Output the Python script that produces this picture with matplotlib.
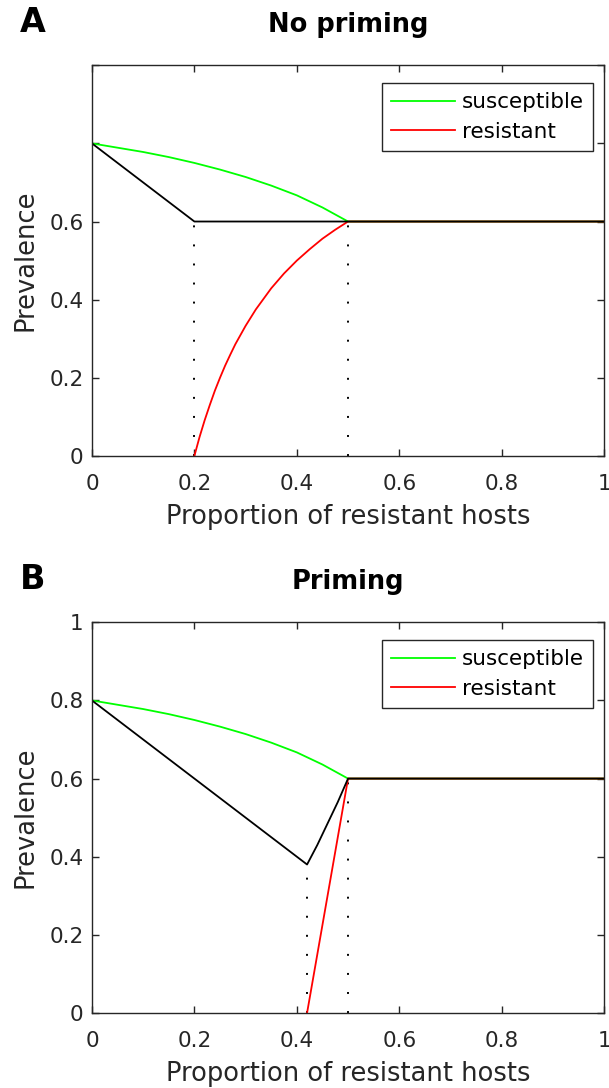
import numpy as np
import matplotlib
matplotlib.use('Agg')
from matplotlib import pyplot as plt

# valores
p_sus = [0, 0.05, 0.1, 0.15, 0.2, 0.25, 0.3, 0.35, 0.4, 0.45, 0.5, 1]
sus = [0.8, 0.789, 0.778, 0.765, 0.75, 0.733, 0.714, 0.692, 0.667, 0.636, 0.6, 0.6]

# panel A (sin priming)
p_res_a = [0.2, 0.21, 0.22, 0.23, 0.24, 0.25, 0.26, 0.27, 0.28, 0.3, 0.32, 0.35,
           0.375, 0.4, 0.425, 0.45, 0.475, 0.5, 1]
res_a = [0, 0.048, 0.091, 0.130, 0.167, 0.2, 0.231, 0.259, 0.286, 0.333, 0.375, 0.429,
         0.467, 0.5, 0.529, 0.556, 0.579, 0.6, 0.6]
p_tot_a = [0, 0.2, 1]
tot_a = [0.8, 0.6, 0.6]
umbral_a = [0.2, 0.5]
umbral_a_y = [0.6, 0.6]

# panel B (priming)
p_res_b = [0.42, 0.44, 0.46, 0.48, 0.5, 1]
res_b = [0, 0.15, 0.3, 0.45, 0.6, 0.6]
p_tot_b = [0, 0.42, 0.44, 0.46, 0.48, 0.5, 1]
tot_b = [0.8, 0.38, 0.43, 0.485, 0.54, 0.6, 0.6]
umbral_b = [0.42, 0.5]
umbral_b_y = [0.38, 0.6]

gris = '#262626'

fig = plt.figure(figsize=(6.09, 10.88), dpi=100)
ax1 = fig.add_axes([0.151, 0.581, 0.841, 0.359])
ax2 = fig.add_axes([0.151, 0.069, 0.841, 0.359])

paneles = [
    (ax1, 'A', 'No priming', p_res_a, res_a, p_tot_a, tot_a, umbral_a, umbral_a_y,
     ['0', '0.2', '0.4', '0.6', '', '']),
    (ax2, 'B', 'Priming', p_res_b, res_b, p_tot_b, tot_b, umbral_b, umbral_b_y,
     ['0', '0.2', '0.4', '0.6', '0.8', '1']),
]

for ax, letra, titulo, pr, r, pt, t, um, um_y, ylabs in paneles:
    for x, y in zip(um, um_y):
        ax.plot([x, x], [0, y], color='black', lw=1.4, linestyle=(0, (1, 8.8)))
    ax.plot(p_sus, sus, color='#00ff00', lw=1.3, label='susceptible')
    ax.plot(pr, r, color='#ff0000', lw=1.3, label='resistant')
    ax.plot(pt, t, color='black', lw=1.3)

    ax.set_xlim(0, 1)
    ax.set_ylim(0, 1)
    ax.set_xticks([0, 0.2, 0.4, 0.6, 0.8, 1])
    ax.set_xticklabels(['0', '0.2', '0.4', '0.6', '0.8', '1'])
    ax.set_yticks([0, 0.2, 0.4, 0.6, 0.8, 1])
    ax.set_yticklabels(ylabs)
    ax.tick_params(direction='in', top=True, right=True, length=5, width=1,
                   colors=gris, labelsize=15.5)
    ax.tick_params(axis='x', pad=13)
    ax.tick_params(axis='y', pad=6)
    for s in ax.spines.values():
        s.set_color(gris)
        s.set_linewidth(1)

    ax.set_xlabel('Proportion of resistant hosts', fontsize=18.5, color=gris, labelpad=7)
    ax.set_ylabel('Prevalence', fontsize=18.5, color=gris, labelpad=8)
    ax.set_title(titulo, fontsize=18.5, fontweight='bold', pad=24)

    leg = ax.legend(loc='upper right', bbox_to_anchor=(0.978, 0.954), fontsize=15.5,
                    fancybox=False, framealpha=1, edgecolor=gris, handlelength=3.0,
                    borderaxespad=0, borderpad=0.42, labelspacing=0.45, handletextpad=0.3)
    leg.get_frame().set_linewidth(1)

    ax.text(-0.141, 1.11, letra, transform=ax.transAxes, fontsize=24,
            fontweight='bold', ha='left', va='center')

fig.savefig('out.png', dpi=100)
